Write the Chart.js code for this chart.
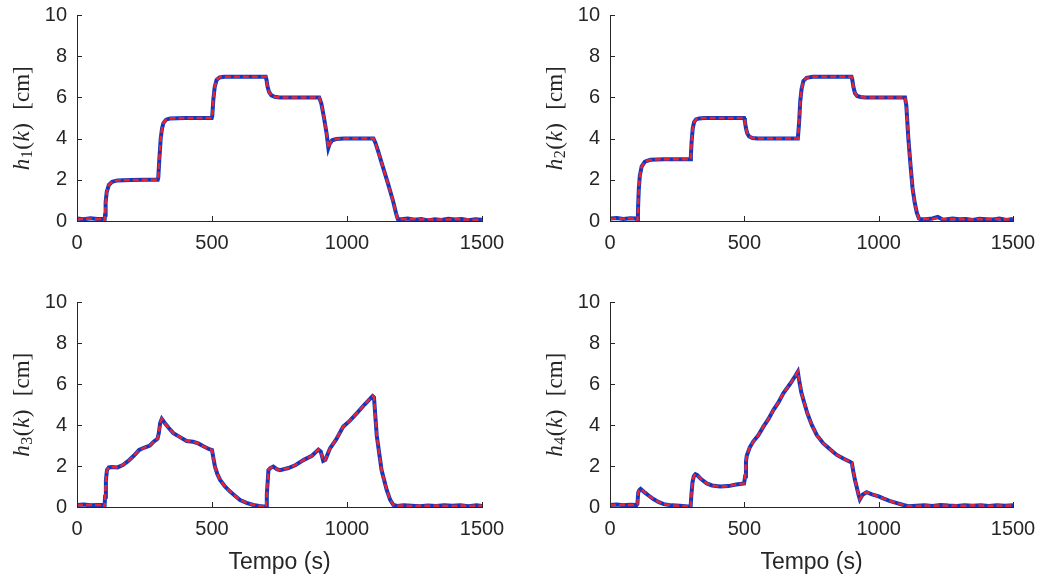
<!DOCTYPE html>
<html>
<head>
<meta charset="utf-8">
<script src="https://cdn.jsdelivr.net/npm/chart.js@4.4.1/dist/chart.umd.min.js"></script>
<style>
  body { margin: 0; background: #fff; }
  #wrap { position: relative; width: 1041px; height: 580px; background: #fff; }
  canvas { position: absolute; }
</style>
</head>
<body>
<div id="wrap">
  <canvas id="c1" width="520" height="290" style="left:0;top:0"></canvas>
  <canvas id="c2" width="521" height="290" style="left:520px;top:0"></canvas>
  <canvas id="c3" width="520" height="290" style="left:0;top:290px"></canvas>
  <canvas id="c4" width="521" height="290" style="left:520px;top:290px"></canvas>
</div>
<script>
// tempo (s) e niveis dos tanques (cm): medido (azul) e estimado (vermelho)
const t1 = [0, 25, 50, 75, 99, 102, 104, 106, 110, 118, 130, 150, 200, 250, 299, 301, 305, 310, 315, 320, 330, 345, 400, 450, 499, 501, 505, 510, 517, 528, 545, 600, 650, 699, 702, 706, 712, 720, 732, 750, 800, 850, 897, 905, 915, 925, 931, 936, 945, 960, 990, 1050, 1098, 1105, 1115, 1130, 1150, 1170, 1182, 1188, 1200, 1225, 1250, 1275, 1300, 1325, 1350, 1375, 1400, 1425, 1450, 1475, 1500];
const h1Med = [0.12, 0.08, 0.13, 0.10, 0.10, 0.02, 0.3, 0.9, 1.4, 1.75, 1.9, 1.97, 1.99, 2.0, 2.0, 2.1, 3.0, 4.0, 4.5, 4.75, 4.92, 4.98, 5.0, 5.0, 5.0, 5.1, 5.9, 6.5, 6.85, 6.97, 7.0, 7.0, 7.0, 7.0, 6.85, 6.5, 6.25, 6.1, 6.03, 6.0, 6.0, 6.0, 6.0, 5.7, 5.0, 4.2, 3.55, 3.75, 3.92, 3.98, 4.0, 4.0, 4.0, 3.8, 3.4, 2.75, 1.9, 1.0, 0.35, 0.1, 0.08, 0.12, 0.06, 0.10, 0.03, 0.08, 0.05, 0.11, 0.07, 0.10, 0.04, 0.09, 0.06];
const h1Est = [0.10, 0.10, 0.11, 0.09, 0.10, 0.02, 0.3, 0.9, 1.4, 1.75, 1.9, 1.97, 1.99, 2.0, 2.0, 2.1, 3.0, 4.0, 4.5, 4.75, 4.92, 4.98, 5.0, 5.0, 5.0, 5.1, 5.9, 6.5, 6.85, 6.97, 7.0, 7.0, 7.0, 7.0, 6.85, 6.5, 6.25, 6.1, 6.03, 6.0, 6.0, 6.0, 6.0, 5.7, 5.0, 4.2, 3.55, 3.75, 3.92, 3.98, 4.0, 4.0, 4.0, 3.8, 3.4, 2.75, 1.9, 1.0, 0.35, 0.1, 0.10, 0.08, 0.10, 0.07, 0.09, 0.06, 0.08, 0.07, 0.10, 0.06, 0.08, 0.05, 0.07];

const t2 = [0, 25, 50, 75, 99, 102, 104, 107, 111, 118, 130, 150, 200, 250, 299, 301, 304, 308, 313, 320, 332, 350, 400, 450, 499, 502, 506, 511, 518, 530, 550, 600, 650, 699, 701, 704, 708, 713, 720, 732, 755, 800, 850, 899, 902, 906, 912, 920, 932, 950, 1000, 1050, 1098, 1103, 1110, 1118, 1126, 1134, 1142, 1150, 1157, 1175, 1200, 1220, 1240, 1275, 1300, 1325, 1350, 1375, 1400, 1425, 1450, 1475, 1500];
const h2Med = [0.12, 0.14, 0.10, 0.13, 0.12, 0.02, 0.5, 1.5, 2.2, 2.65, 2.88, 2.97, 3.0, 3.0, 3.0, 3.15, 3.9, 4.5, 4.8, 4.93, 4.98, 5.0, 5.0, 5.0, 5.0, 4.85, 4.5, 4.25, 4.1, 4.03, 4.0, 4.0, 4.0, 4.0, 4.3, 4.8, 5.8, 6.4, 6.8, 6.95, 7.0, 7.0, 7.0, 7.0, 6.85, 6.5, 6.2, 6.07, 6.02, 6.0, 6.0, 6.0, 6.0, 5.6, 4.1, 2.8, 1.6, 0.9, 0.4, 0.12, 0.08, 0.08, 0.12, 0.20, 0.06, 0.12, 0.08, 0.10, 0.05, 0.11, 0.09, 0.07, 0.12, 0.05, 0.10];
const h2Est = [0.10, 0.12, 0.11, 0.12, 0.11, 0.02, 0.5, 1.5, 2.2, 2.65, 2.88, 2.97, 3.0, 3.0, 3.0, 3.15, 3.9, 4.5, 4.8, 4.93, 4.98, 5.0, 5.0, 5.0, 5.0, 4.85, 4.5, 4.25, 4.1, 4.03, 4.0, 4.0, 4.0, 4.0, 4.3, 4.8, 5.8, 6.4, 6.8, 6.95, 7.0, 7.0, 7.0, 7.0, 6.85, 6.5, 6.2, 6.07, 6.02, 6.0, 6.0, 6.0, 6.0, 5.6, 4.1, 2.8, 1.6, 0.9, 0.4, 0.12, 0.08, 0.10, 0.10, 0.14, 0.08, 0.10, 0.09, 0.08, 0.07, 0.10, 0.08, 0.09, 0.10, 0.07, 0.09];

const t3 = [0, 25, 50, 75, 99, 102, 104, 107, 111, 118, 130, 150, 170, 190, 210, 230, 250, 270, 285, 298, 303, 308, 314, 325, 340, 357, 380, 406, 430, 449, 470, 490, 500, 505, 511, 520, 530, 548, 567, 585, 604, 628, 653, 675, 697, 700, 703, 709, 716, 727, 740, 752, 783, 810, 840, 870, 894, 903, 912, 920, 937, 960, 986, 1010, 1036, 1065, 1095, 1100, 1110, 1128, 1147, 1160, 1172, 1185, 1210, 1240, 1270, 1300, 1330, 1360, 1390, 1420, 1450, 1480, 1500];
const h3Med = [0.10, 0.12, 0.08, 0.10, 0.10, 0.0, 0.5, 1.3, 1.8, 1.93, 1.95, 1.93, 2.05, 2.25, 2.5, 2.78, 2.9, 3.0, 3.2, 3.33, 3.6, 4.1, 4.3, 4.1, 3.85, 3.6, 3.42, 3.22, 3.18, 3.1, 2.95, 2.82, 2.78, 2.4, 1.97, 1.6, 1.32, 1.0, 0.75, 0.55, 0.34, 0.2, 0.1, 0.05, 0.02, -0.02, 0.6, 1.8, 1.9, 1.97, 1.85, 1.8, 1.9, 2.05, 2.3, 2.5, 2.8, 2.7, 2.25, 2.3, 2.86, 3.3, 3.92, 4.2, 4.57, 5.0, 5.41, 5.35, 3.5, 1.8, 0.83, 0.35, 0.1, 0.05, 0.08, 0.06, 0.04, 0.07, 0.05, 0.09, 0.06, 0.08, 0.04, 0.09, 0.05];
const h3Est = [0.10, 0.10, 0.10, 0.10, 0.10, 0.0, 0.5, 1.3, 1.8, 1.93, 1.95, 1.93, 2.05, 2.25, 2.5, 2.78, 2.9, 3.0, 3.2, 3.33, 3.6, 4.1, 4.3, 4.1, 3.85, 3.6, 3.42, 3.22, 3.18, 3.1, 2.95, 2.82, 2.78, 2.4, 1.97, 1.6, 1.32, 1.0, 0.75, 0.55, 0.34, 0.2, 0.1, 0.05, 0.02, -0.02, 0.6, 1.8, 1.9, 1.97, 1.85, 1.8, 1.9, 2.05, 2.3, 2.5, 2.8, 2.7, 2.25, 2.3, 2.86, 3.3, 3.92, 4.2, 4.57, 5.0, 5.41, 5.35, 3.5, 1.8, 0.83, 0.35, 0.1, 0.06, 0.07, 0.05, 0.06, 0.06, 0.07, 0.06, 0.05, 0.07, 0.05, 0.06, 0.06];

const t4 = [0, 25, 50, 75, 99, 102, 105, 109, 114, 120, 130, 145, 160, 180, 200, 230, 260, 290, 300, 303, 307, 312, 318, 325, 340, 360, 380, 410, 440, 470, 499, 503, 506, 509, 520, 533, 552, 571, 590, 608, 627, 645, 670, 690, 699, 705, 712, 720, 735, 751, 770, 794, 820, 844, 870, 893, 900, 906, 912, 918, 925, 930, 940, 955, 975, 1000, 1017, 1040, 1065, 1092, 1110, 1140, 1170, 1200, 1230, 1260, 1290, 1320, 1350, 1380, 1410, 1440, 1470, 1500];
const h4Med = [0.10, 0.12, 0.09, 0.11, 0.10, 0.15, 0.7, 0.82, 0.88, 0.82, 0.7, 0.55, 0.4, 0.25, 0.14, 0.08, 0.06, 0.03, 0.0, 0.6, 1.2, 1.5, 1.6, 1.55, 1.35, 1.15, 1.05, 1.0, 1.02, 1.1, 1.15, 1.5, 2.2, 2.5, 2.9, 3.19, 3.5, 3.92, 4.3, 4.73, 5.1, 5.55, 6.0, 6.4, 6.6, 6.1, 5.6, 5.22, 4.55, 4.0, 3.5, 3.1, 2.8, 2.54, 2.35, 2.21, 2.15, 1.7, 1.3, 0.99, 0.6, 0.37, 0.6, 0.72, 0.62, 0.52, 0.42, 0.3, 0.2, 0.1, 0.04, 0.06, 0.08, 0.05, 0.10, 0.07, 0.05, 0.09, 0.06, 0.08, 0.05, 0.09, 0.06, 0.08];
const h4Est = [0.10, 0.10, 0.10, 0.10, 0.10, 0.15, 0.7, 0.82, 0.88, 0.82, 0.7, 0.55, 0.4, 0.25, 0.14, 0.08, 0.06, 0.03, 0.0, 0.6, 1.2, 1.5, 1.6, 1.55, 1.35, 1.15, 1.05, 1.0, 1.02, 1.1, 1.15, 1.5, 2.2, 2.5, 2.9, 3.19, 3.5, 3.92, 4.3, 4.73, 5.1, 5.55, 6.0, 6.4, 6.6, 6.1, 5.6, 5.22, 4.55, 4.0, 3.5, 3.1, 2.8, 2.54, 2.35, 2.21, 2.15, 1.7, 1.3, 0.99, 0.6, 0.37, 0.6, 0.72, 0.62, 0.52, 0.42, 0.3, 0.2, 0.1, 0.04, 0.05, 0.07, 0.06, 0.08, 0.06, 0.07, 0.06, 0.08, 0.07, 0.06, 0.07, 0.06, 0.07];

const xTicks = [0, 500, 1000, 1500];
const yTicks = [0, 2, 4, 6, 8, 10];

const axisColor = '#262626';
const blue = '#0e38c2';
const red = '#ea2330';
const sansFont = '"Liberation Sans", Arial, sans-serif';
const serifFont = '"Liberation Serif", "Times New Roman", serif';

// ticks para dentro (estilo MATLAB) + rotulo do eixo y em modo matematico
const matlabAxes = {
	id: 'matlabAxes',
	afterDraw(chart, args, opts) {
		const ctx = chart.ctx;
		const area = chart.chartArea;
		const xs = chart.scales.x, ys = chart.scales.y;
		ctx.save();
		ctx.strokeStyle = axisColor;
		ctx.lineWidth = 1;
		ctx.beginPath();
		xs.ticks.forEach(tk => {
			const px = Math.round(xs.getPixelForValue(tk.value)) + 0.5;
			ctx.moveTo(px, area.bottom);
			ctx.lineTo(px, area.bottom - 5);
		});
		ys.ticks.forEach(tk => {
			const py = Math.round(ys.getPixelForValue(tk.value)) + 0.5;
			ctx.moveTo(area.left, py);
			ctx.lineTo(area.left + 5, py);
		});
		ctx.stroke();

		const parts = [
			{ t: 'h', f: 'italic 23px ' + serifFont, dy: 0 },
			{ t: opts.sub, f: '16px ' + serifFont, dy: 5 },
			{ t: '(', f: '23px ' + serifFont, dy: 0 },
			{ t: 'k', f: 'italic 23px ' + serifFont, dy: 0 },
			{ t: ')', f: '23px ' + serifFont, dy: 0, gap: 13 },
			{ t: '[cm]', f: '23px ' + serifFont, dy: 0 }
		];
		let total = 0;
		parts.forEach(p => {
			ctx.font = p.f;
			p.w = ctx.measureText(p.t).width;
			total += p.w + (p.gap || 0) + 0.5;
		});
		ctx.translate(area.left - 54, (area.top + area.bottom) / 2);
		ctx.rotate(-Math.PI / 2);
		ctx.fillStyle = axisColor;
		ctx.textBaseline = 'middle';
		ctx.textAlign = 'left';
		let x = -total / 2;
		parts.forEach(p => {
			ctx.font = p.f;
			ctx.fillText(p.t, x, p.dy);
			x += p.w + (p.gap || 0) + 0.5;
		});
		ctx.restore();
	}
};

function pts(t, h) {
	return t.map((v, i) => ({ x: v, y: h[i] }));
}

function makeChart(id, t, med, est, sub, opt) {
	return new Chart(document.getElementById(id), {
		type: 'line',
		data: {
			datasets: [{
				label: 'medido',
				data: pts(t, med),
				borderColor: blue,
				borderWidth: 4,
				pointRadius: 0,
				tension: 0,
				order: 1
			}, {
				label: 'estimado',
				data: pts(t, est),
				borderColor: red,
				borderWidth: 2.5,
				borderDash: [6, 3],
				pointRadius: 0,
				tension: 0,
				order: 0
			}]
		},
		options: {
			responsive: false,
			animation: false,
			layout: { padding: { left: 0, top: opt.top, right: opt.right, bottom: 0 } },
			plugins: {
				legend: { display: false },
				tooltip: { enabled: false },
				matlabAxes: { sub: sub }
			},
			scales: {
				x: {
					type: 'linear',
					min: 0, max: 1500,
					afterBuildTicks: s => { s.ticks = xTicks.map(v => ({ value: v })); },
					afterFit: s => { s.height = opt.xh; s.paddingLeft = 0; s.paddingRight = 0; },
					grid: { display: false, drawTicks: false },
					border: { display: true, color: axisColor, width: 1 },
					ticks: {
						color: axisColor, padding: 10,
						font: { family: sansFont, size: 20 },
						callback: v => String(v)
					},
					title: {
						display: opt.xTitle,
						text: 'Tempo (s)',
						color: axisColor,
						font: { family: sansFont, size: 23 },
						padding: { top: 0, bottom: 4 }
					}
				},
				y: {
					min: 0, max: 10,
					afterBuildTicks: s => { s.ticks = yTicks.map(v => ({ value: v })); },
					afterFit: s => { s.width = opt.yw; s.paddingTop = 0; s.paddingBottom = 0; },
					grid: { display: false, drawTicks: false },
					border: { display: true, color: axisColor, width: 1 },
					ticks: {
						color: axisColor, padding: 10,
						font: { family: sansFont, size: 20 },
						callback: v => String(v)
					}
				}
			}
		},
		plugins: [matlabAxes]
	});
}

makeChart('c1', t1, h1Med, h1Est, '1', { top: 15, right: 38, xh: 69, yw: 77, xTitle: false });
makeChart('c2', t2, h2Med, h2Est, '2', { top: 15, right: 28, xh: 69, yw: 90, xTitle: false });
makeChart('c3', t3, h3Med, h3Est, '3', { top: 12, right: 38, xh: 73, yw: 77, xTitle: true });
makeChart('c4', t4, h4Med, h4Est, '4', { top: 12, right: 28, xh: 73, yw: 90, xTitle: true });
</script>
</body>
</html>
